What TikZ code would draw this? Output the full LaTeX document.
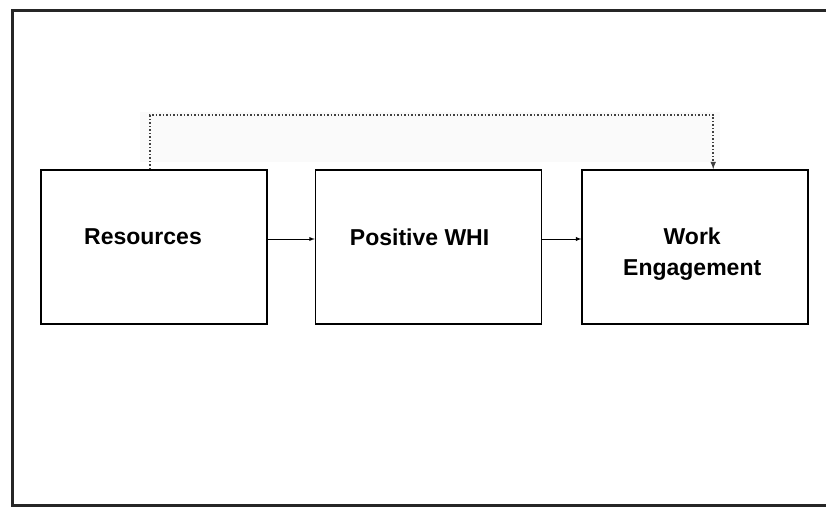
\documentclass[tikz,border=0pt]{standalone}
\usepackage{fontspec}
\setsansfont{Liberation Sans}
\usepackage{tikz}
\usetikzlibrary{positioning}
\usetikzlibrary{arrows}
\tikzset{my_diagram/.style={->,>=latex,x=1pt,y=1pt}}
\tikzset{my_block/.style={draw, rectangle, line width=1.6pt, minimum width=226pt, minimum height=154pt}}
\tikzset{my_text/.style={font=\sffamily\bfseries\fontsize{23}{31}\selectfont, align=center}}
\tikzset{my_link/.style={line width=0.9pt}}
\tikzset{my_feedback/.style={dotted, line width=1.5pt, black!75}}

\begin{document}
\begin{tikzpicture}[my_diagram]
    \useasboundingbox (0,0) rectangle (826,508);
    %\draw[help lines] (0,0) grid (826,508);
    \draw[-, line width=3pt, black!85] (12,3) rectangle (845,497);
    \fill[black!2] (140,346) rectangle (720,396);

    \node[my_block, label={[my_text, xshift=-11pt, yshift=10pt]center:Resources}] (res) at (154,261) {};
    \node[my_block, right=47pt of res, label={[my_text, xshift=-9pt, yshift=10pt]center:Positive WHI}] (whi) {};
    \node[my_block, right=39pt of whi, label={[my_text, xshift=-3pt, yshift=-7pt]center:Work\\Engagement}] (eng) {};

    \path
        ([yshift=8pt]res.east) edge [my_link] ([yshift=8pt]whi.west)
        ([yshift=8pt]whi.east) edge [my_link] ([yshift=8pt]eng.west)
    ;
    \draw[my_feedback] ([xshift=-4pt]res.north) -- ++(0,54) -| ([xshift=18pt]eng.north);
\end{tikzpicture}
\end{document}
